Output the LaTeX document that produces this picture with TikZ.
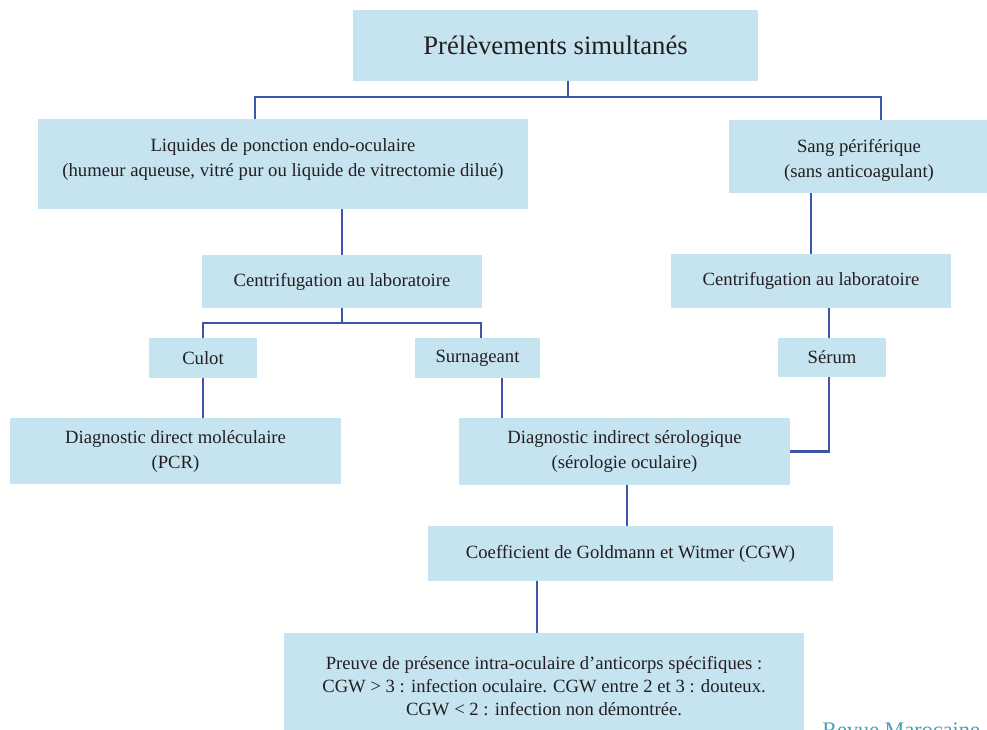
\documentclass[tikz,border=0pt]{standalone}
\usepackage{fontspec}
\setmainfont{Liberation Serif}
\definecolor{boxblue}{HTML}{C6E3F0}
\definecolor{linkblue}{HTML}{3B55A8}
\definecolor{txt}{HTML}{231F20}
\definecolor{teal}{HTML}{4A9DB5}
\begin{document}
\begin{tikzpicture}[x=0.75pt,y=-0.75pt,
  box/.style={fill=boxblue, draw=none, inner sep=0pt, align=center, text=txt,
    font=\fontsize{14}{18.75}\selectfont},
  lbl/.style={inner sep=0pt, align=center, text=txt, font=\fontsize{14}{18.75}\selectfont},
  link/.style={draw=linkblue, line width=2pt, line join=miter}]
\useasboundingbox (0,0) rectangle (987,729);
\clip (0,0) rectangle (987,729);
% boxes
\node[box, minimum width=405*0.75pt, minimum height=71*0.75pt, font=\fontsize{20}{24}\selectfont] (top) at (555.5,45.5) {Prélèvements simultanés};
\node[box, minimum width=490*0.75pt, minimum height=90*0.75pt] (liq) at (283,164) {};
\node[lbl] (liqt) at (283,159.5) {Liquides de ponction endo-oculaire\\(humeur aqueuse, vitré pur ou liquide de vitrectomie dilué)};
\node[box, minimum width=258*0.75pt, minimum height=73*0.75pt] (sang) at (858,156.5) {};
\node[lbl] (sangt) at (859,160) {Sang périférique\\(sans anticoagulant)};
\node[box, minimum width=280*0.75pt, minimum height=53*0.75pt] (cent1) at (342,281.5) {Centrifugation au laboratoire};
\node[box, minimum width=280*0.75pt, minimum height=54*0.75pt] (cent2) at (811,281) {Centrifugation au laboratoire};
\node[box, minimum width=108*0.75pt, minimum height=40*0.75pt] (culot) at (203,358) {Culot};
\node[box, minimum width=125*0.75pt, minimum height=40*0.75pt] (surn) at (477.5,358) {Surnageant};
\node[box, minimum width=108*0.75pt, minimum height=39*0.75pt] (serum) at (832,357.5) {Sérum};
\node[box, minimum width=331*0.75pt, minimum height=66*0.75pt] (diagd) at (175.5,451) {};
\node[lbl] (diagdt) at (175.5,451.5) {Diagnostic direct moléculaire\\(PCR)};
\node[box, minimum width=331*0.75pt, minimum height=67*0.75pt] (diagi) at (624.5,451.5) {};
\node[lbl] (diagit) at (624.5,451.5) {Diagnostic indirect sérologique\\(sérologie oculaire)};
\node[box, minimum width=405*0.75pt, minimum height=55*0.75pt] (cgw) at (630.5,553.5) {Coefficient de Goldmann et Witmer (CGW)};
\node[box, minimum width=520*0.75pt, minimum height=106*0.75pt, font=\fontsize{14}{17.3}\selectfont] (preuve) at (544,686) {Preuve de présence intra-oculaire d’anticorps spécifiques :\\CGW > 3 : infection oculaire. CGW entre 2 et 3 : douteux.\\CGW < 2 : infection non démontrée.};
\node[anchor=base west, inner sep=0pt, text=teal, font=\fontsize{16.7}{20}\selectfont] (revue) at (822,737) {Revue Marocaine};
% junction coordinates
\coordinate (j1) at (568,97);
\coordinate (j1l) at (255,97);
\coordinate (j1r) at (881,97);
\coordinate (j2) at (342,323);
\coordinate (j2l) at (203,323);
\coordinate (j2r) at (481,323);
\coordinate (xs) at (502,400);
\coordinate (xc) at (829,400);
\coordinate (xd) at (627,500);
\coordinate (xp) at (537,600);
% connectors
\draw[link] (top.south -| j1) -- (j1);
\draw[link] (liq.north -| j1l) -- (j1l) -- (j1r) -- (sang.north -| j1r);
\draw[link] (cent1.north |- liq.south) -- (cent1.north);
\draw[link] (cent2.north |- sang.south) -- (cent2.north);
\draw[link] (cent1.south) -- (j2);
\draw[link] (culot.north) -- (j2l) -- (j2r) -- (surn.north -| j2r);
\draw[link] (culot.south) -- (diagd.north -| culot.south);
\draw[link] (surn.south -| xs) -- (diagi.north -| xs);
\draw[link] (cent2.south -| xc) -- (serum.north -| xc);
\draw[link] (serum.south -| xc) |- (diagi.east);
\draw[link] (diagi.south -| xd) -- (cgw.north -| xd);
\draw[link] (cgw.south -| xp) -- (preuve.north -| xp);
\end{tikzpicture}
\end{document}
